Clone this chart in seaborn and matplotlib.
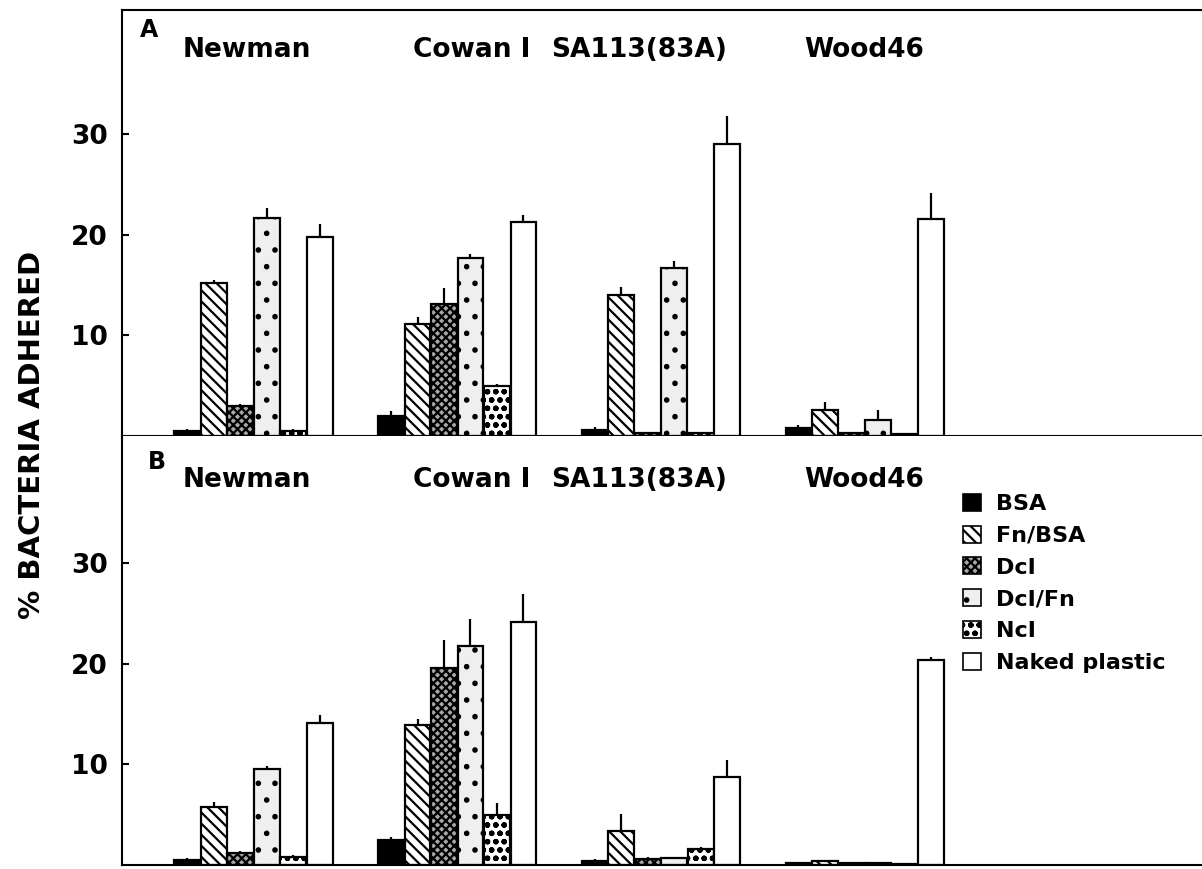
import numpy as np
import pandas as pd
import matplotlib
matplotlib.use("Agg")
import matplotlib.pyplot as plt
import matplotlib.patches as mpatches
import seaborn as sns

strains = ["Newman", "Cowan I", "SA113(83A)", "Wood46"]
substrates = ["BSA", "Fn/BSA", "DcI", "DcI/Fn", "NcI", "Naked plastic"]

# Panel A values (one list per substrate, in strain order)
a_bsa = [0.5, 2.0, 0.6, 0.8]
a_fn = [15.2, 11.1, 14.0, 2.6]
a_dc = [3.0, 13.1, 0.3, 0.3]
a_dcfn = [21.6, 17.7, 16.7, 1.6]
a_nc = [0.5, 5.0, 0.3, 0.2]
a_naked = [19.8, 21.2, 29.0, 21.5]
a_err_bsa = [0.2, 0.5, 0.3, 0.3]
a_err_fn = [0.3, 0.7, 0.8, 0.8]
a_err_dc = [0.2, 1.6, 0.1, 0.1]
a_err_dcfn = [1.0, 0.4, 0.7, 1.0]
a_err_nc = [0.2, 0.2, 0.1, 0.1]
a_err_naked = [1.2, 0.7, 2.8, 2.6]

# Panel B values
b_bsa = [0.5, 2.5, 0.4, 0.2]
b_fn = [5.8, 13.9, 3.4, 0.4]
b_dc = [1.2, 19.6, 0.6, 0.2]
b_dcfn = [9.5, 21.7, 0.7, 0.2]
b_nc = [0.8, 5.0, 1.6, 0.05]
b_naked = [14.1, 24.1, 8.7, 20.4]
b_err_bsa = [0.2, 0.3, 0.2, 0.1]
b_err_fn = [0.5, 0.6, 1.7, 0.1]
b_err_dc = [0.2, 2.7, 0.2, 0.1]
b_err_dcfn = [0.3, 2.7, 0.1, 0.1]
b_err_nc = [0.2, 1.2, 0.2, 0.05]
b_err_naked = [0.8, 2.8, 1.7, 0.3]

yticks = [10, 20, 30]
label_x = [-0.032, 1.073, 1.893, 2.997]

sns.set_style("white")
plt.rcParams["font.family"] = ["DejaVu Sans"]
plt.rcParams["text.color"] = "black"
plt.rcParams["hatch.linewidth"] = 1.6


def make_df(vals, errs):
    rows = []
    for sub, v, e in zip(substrates, vals, errs):
        for st, vv, ee in zip(strains, v, e):
            rows.append({"strain": st, "substrate": sub, "value": vv, "err": ee})
    return pd.DataFrame(rows)


df_a = make_df([a_bsa, a_fn, a_dc, a_dcfn, a_nc, a_naked],
               [a_err_bsa, a_err_fn, a_err_dc, a_err_dcfn, a_err_nc, a_err_naked])
df_b = make_df([b_bsa, b_fn, b_dc, b_dcfn, b_nc, b_naked],
               [b_err_bsa, b_err_fn, b_err_dc, b_err_dcfn, b_err_nc, b_err_naked])

styles = {
    "BSA": dict(facecolor="black", hatch=None),
    "Fn/BSA": dict(facecolor="white", hatch="\\\\\\"),
    "DcI": dict(facecolor="#a8a8a8", hatch="xxxx"),
    "DcI/Fn": dict(facecolor="#efefef", hatch="."),
    "NcI": dict(facecolor="white", hatch="oo"),
    "Naked plastic": dict(facecolor="white", hatch=None),
}

fig = plt.figure(figsize=(12.02, 8.69), dpi=100)
ax_a = fig.add_axes([0.1015, 0.4983, 0.8985, 0.4902])
ax_b = fig.add_axes([0.1015, 0.0046, 0.8985, 0.4937])

panels = [(ax_a, df_a, 42.3, "A", 0.017, 0.953, 0.906),
          (ax_b, df_b, 42.6, "B", 0.024, 0.94, 0.897)]

for ax, df, ytop, letter, lx, ly, gy in panels:
    sns.barplot(data=df, x="strain", y="value", hue="substrate",
                order=strains, hue_order=substrates, errorbar=None,
                width=0.78, gap=0.03, ax=ax, legend=False,
                edgecolor="black", linewidth=1.6)
    for sub, cont in zip(substrates, ax.containers):
        st = styles[sub]
        errs = df[df.substrate == sub].set_index("strain").loc[strains, "err"].values
        xs, hs = [], []
        for p in cont.patches:
            p.set_facecolor(st["facecolor"])
            p.set_edgecolor("black")
            if st["hatch"]:
                p.set_hatch(st["hatch"])
            xs.append(p.get_x() + p.get_width() / 2)
            hs.append(p.get_height())
        ax.errorbar(xs, hs, yerr=[np.zeros(len(errs)), errs], fmt="none",
                    ecolor="black", elinewidth=1.6, capsize=0, zorder=1)
    ax.set_xlim(-0.6456, 4.656)
    ax.set_ylim(0, ytop)
    ax.set_yticks(yticks)
    ax.set_yticklabels([str(t) for t in yticks], fontsize=19, fontweight="bold")
    ax.tick_params(axis="y", left=True, direction="in", length=5, width=1.5,
                   pad=10, labelcolor="black", color="black")
    ax.set_xticks([])
    ax.set_xlabel("")
    ax.set_ylabel("")
    ax.spines["right"].set_visible(False)
    for s in ax.spines.values():
        s.set_linewidth(1.5)
        s.set_color("black")
    ax.text(lx, ly, letter, transform=ax.transAxes, fontsize=17,
            fontweight="bold", va="center", ha="left")
    for xpos, st in zip(label_x, strains):
        ax.text(xpos, gy * ytop, st, fontsize=19, fontweight="bold",
                ha="center", va="center")

ax_b.spines["top"].set_visible(False)

handles = [mpatches.Patch(facecolor=styles[s]["facecolor"], edgecolor="black",
                          hatch=styles[s]["hatch"], linewidth=1.2) for s in substrates]
ax_b.legend(handles, substrates, loc="upper left", bbox_to_anchor=(0.7787, 0.865),
            frameon=False, borderpad=0, borderaxespad=0,
            handlelength=0.8, handleheight=0.8,
            handletextpad=0.68, labelspacing=0.52,
            prop={"family": "DejaVu Sans", "weight": "bold", "size": 16})

fig.text(0.027, 0.5, "% BACTERIA ADHERED", rotation=90, fontsize=21,
         fontweight="bold", ha="center", va="center")

fig.savefig("out.png", dpi=100)
